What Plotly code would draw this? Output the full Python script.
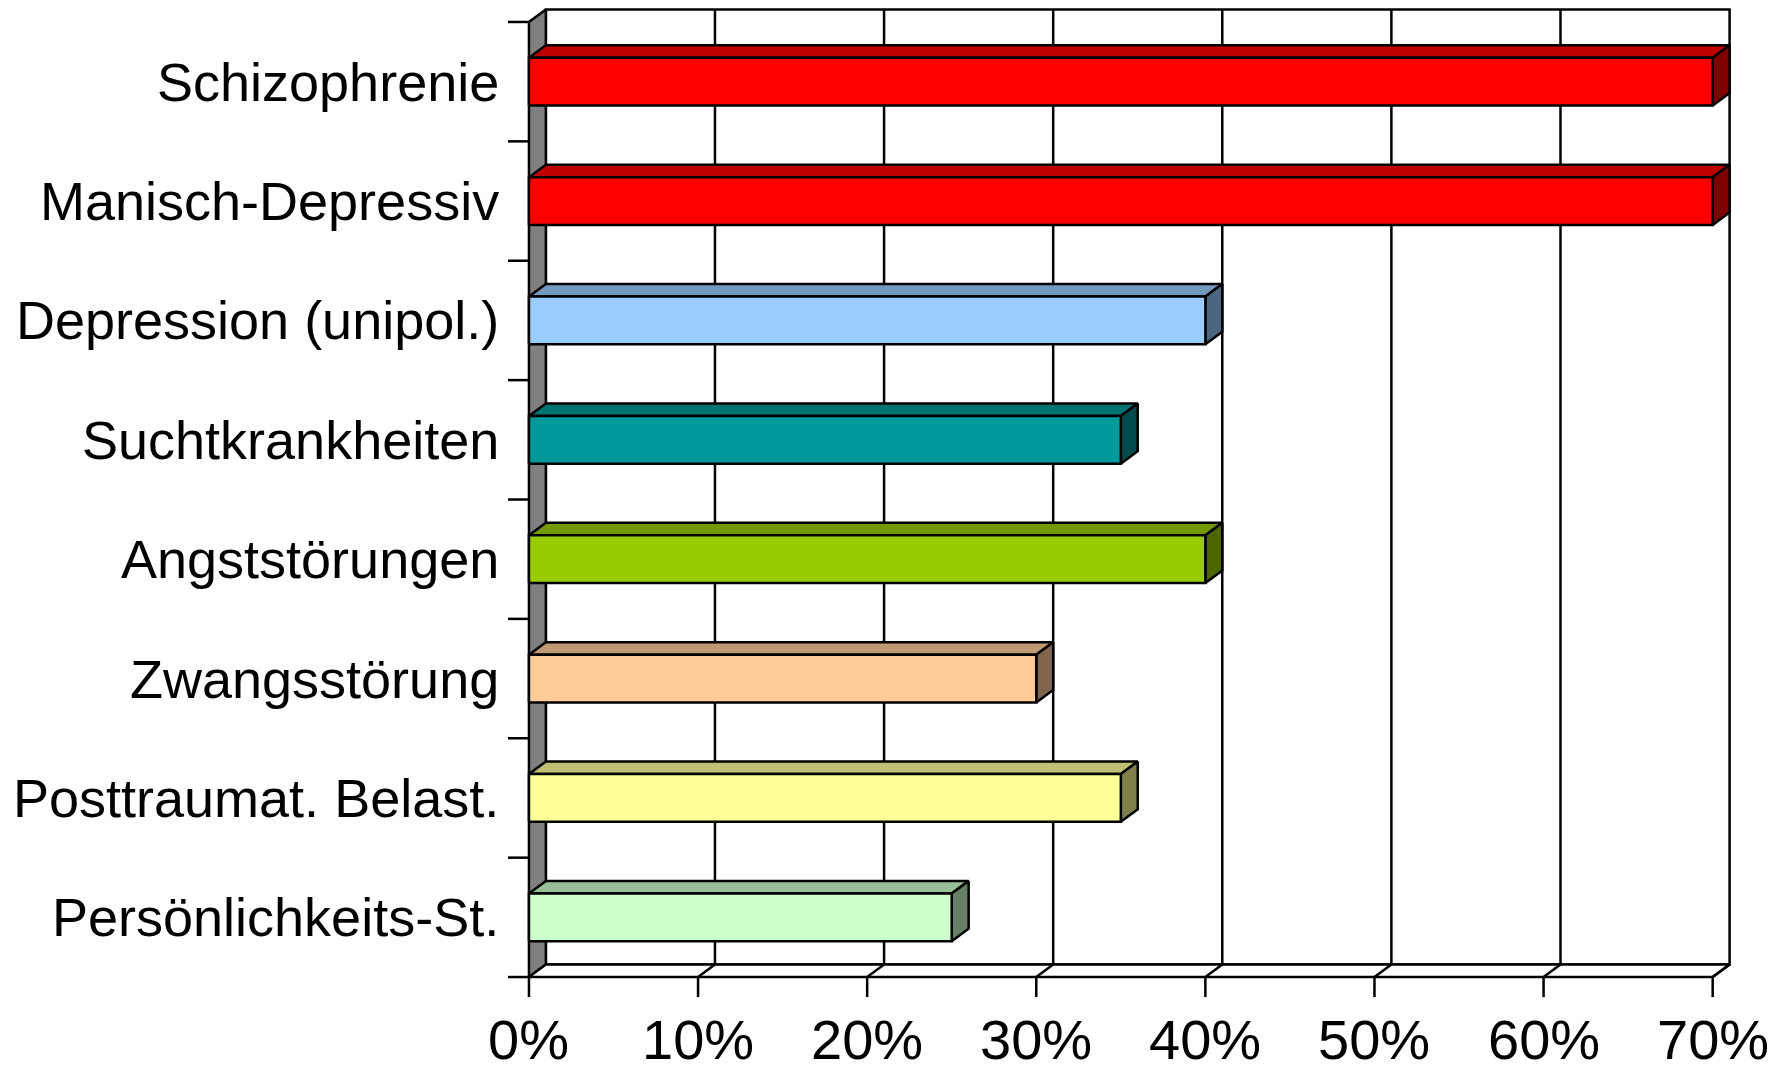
import plotly.graph_objects as go

# Data
categories = ["Schizophrenie", "Manisch-Depressiv", "Depression (unipol.)", "Suchtkrankheiten",
              "Angststörungen", "Zwangsstörung", "Posttraumat. Belast.", "Persönlichkeits-St."]
values = [70, 70, 40, 35, 40, 30, 35, 25]
x_ticks = [0, 10, 20, 30, 40, 50, 60, 70]
x_tick_labels = ["0%", "10%", "20%", "30%", "40%", "50%", "60%", "70%"]

# Styles
front_colors = ["#FF0000", "#FF0000", "#99CCFF", "#009999", "#99CC00", "#FFCC99", "#FFFF99", "#CCFFCC"]


def shade(hex_color, f):
    h = hex_color.lstrip("#")
    r, g, b = (int(h[i:i + 2], 16) for i in (0, 2, 4))
    return "#%02X%02X%02X" % (round(r * f), round(g * f), round(b * f))


top_colors = [shade(c, 0.75) for c in front_colors]
side_colors = [shade(c, 0.5) for c in front_colors]

# 3D depth offsets in data units (x in percent, y in category bands)
DX = 1.0
DY = 0.105
HALF = 0.2          # half bar thickness within a category band
X_MAX = x_ticks[-1]
N = len(categories)
LW = 2.5

fig = go.Figure()


def poly(xs, ys, fill, line="black", width=LW):
    fig.add_trace(go.Scatter(
        x=list(xs) + [xs[0]], y=list(ys) + [ys[0]], mode="lines",
        fill="toself" if fill else None, fillcolor=fill,
        line=dict(color=line, width=width), hoverinfo="skip", showlegend=False))


def seg(xs, ys, width=LW):
    fig.add_trace(go.Scatter(x=xs, y=ys, mode="lines", line=dict(color="black", width=width),
                             hoverinfo="skip", showlegend=False))


# back wall
poly([DX, X_MAX + DX, X_MAX + DX, DX], [DY, DY, N + DY, N + DY], "white")
for t in x_ticks[1:-1]:
    seg([t + DX, t + DX], [DY, N + DY])

# left side wall
poly([0, DX, DX, 0], [0, DY, N + DY, N], "#808080")

# floor
poly([0, X_MAX, X_MAX + DX, DX], [0, 0, DY, DY], "white")
for t in x_ticks[1:]:
    seg([t, t + DX], [0, DY])

# axis ticks
for t in x_ticks:
    seg([t, t], [0, -0.168])
for j in range(N + 1):
    seg([-1.24, 0], [j, j])

# bars
for i, (cat, v) in enumerate(zip(categories, values)):
    c = N - i - 0.5
    y0, y1 = c - HALF, c + HALF
    # top face
    poly([0, v, v + DX, DX], [y1, y1, y1 + DY, y1 + DY], top_colors[i])
    # side face
    poly([v, v + DX, v + DX, v], [y0, y0 + DY, y1 + DY, y1], side_colors[i])
    # front face
    poly([0, v, v, 0], [y0, y0, y1, y1], front_colors[i])

annotations = []
for i, cat in enumerate(categories):
    annotations.append(dict(x=-1.63, y=N - i - 0.5, text=cat, showarrow=False, xanchor="right",
                            yanchor="middle", font=dict(family="Liberation Sans, Arial", size=54, color="black")))
for t, lab in zip(x_ticks, x_tick_labels):
    annotations.append(dict(x=t, y=-0.519, text=lab, showarrow=False, xanchor="center",
                            yanchor="middle", font=dict(family="Liberation Sans, Arial", size=56, color="black")))

fig.update_layout(
    width=1781, height=1071,
    margin=dict(l=0, r=0, t=0, b=0),
    paper_bgcolor="white", plot_bgcolor="white",
    xaxis=dict(range=[-31.28, 74.04], visible=False, fixedrange=True),
    yaxis=dict(range=[-0.787, 8.184], visible=False, fixedrange=True),
    annotations=annotations,
    showlegend=False,
)

fig.write_html("out.html")
